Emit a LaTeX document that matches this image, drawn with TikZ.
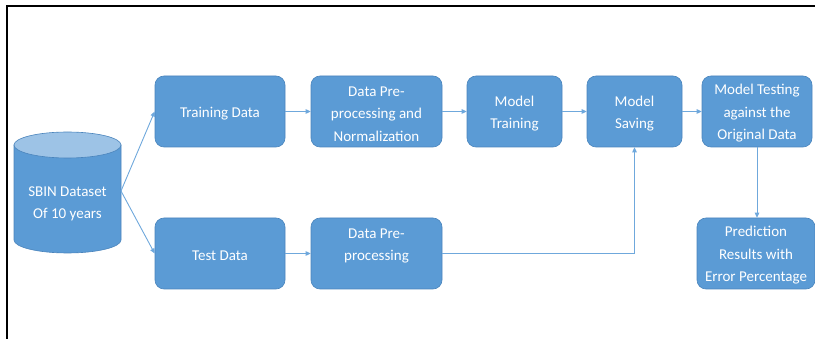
\documentclass[tikz,border=0pt]{standalone}
\usepackage{fontspec}
\setmainfont{Carlito}
\usetikzlibrary{arrows.meta}
\definecolor{boxfill}{HTML}{5B9BD5}
\definecolor{boxedge}{HTML}{4A84BC}
\definecolor{topfill}{HTML}{9DC3E6}
\definecolor{linecol}{HTML}{6FA8DC}
\tikzset{
  box/.style={draw=boxedge, line width=0.6pt, fill=boxfill, rounded corners=9pt,
    text=white, align=center, inner sep=0pt, minimum height=71pt,
    font=\fontsize{15}{22.5}\selectfont},
  onel/.style={execute at begin node={\rule{0pt}{15pt}}},
  conn/.style={draw=linecol, line width=0.9pt, -{Triangle[length=5pt,width=4.5pt]}},
}
\begin{document}
\begin{tikzpicture}[x=1pt,y=-1pt]
\useasboundingbox (0,0) rectangle (815,339);
% frame
\draw[line width=2pt, black] (7,339) -- (7,6) -- (815,6);
% cylinder
\filldraw[fill=boxfill, draw=boxedge, line width=0.6pt]
  (14,145) -- (14,240) arc[start angle=180, end angle=360, x radius=53.5pt, y radius=13pt] -- (121,145) -- cycle;
\filldraw[fill=topfill, draw=boxedge, line width=0.6pt] (67.5,145) ellipse[x radius=53.5pt, y radius=13pt];
\node[text=white, align=center, inner sep=0pt, font=\fontsize{15}{22.5}\selectfont] (db) at (67.5,201.5) {\mbox{}\\[-8pt]SBIN Dataset\\Of 10 years};
\coordinate (src) at (121,191);
% boxes
\node[box, onel, minimum width=130pt] (train) at (220,111.5) {Training Data};
\node[box, minimum width=131pt] (prep) at (376.5,111.5) {\mbox{}\\[-8pt]Data Pre-\\processing and\\Normalization};
\node[box, minimum width=95pt] (mtrain) at (514.5,111.5) {\mbox{}\\[-8pt]Model\\Training};
\node[box, minimum width=95pt] (msave) at (634.5,111.5) {\mbox{}\\[-8pt]Model\\Saving};
\node[box, minimum width=110pt] (mtest) at (757,111.5) {\mbox{}\\[-8pt]Model Testing\\against the\\Original Data};
\node[box, onel, minimum width=130pt] (test) at (220,253.5) {Test Data};
\node[box, minimum width=131pt] (prep2) at (376.5,253.5) {\mbox{}\\[-8pt]Data Pre-\\processing\\\mbox{}};
\node[box, minimum width=118pt] (pred) at (756,253.5) {\mbox{}\\[-8pt]Prediction\\Results with\\Error Percentage};
% connectors
\draw[conn] (src) -- (train.west);
\draw[conn] (src) -- (test.west);
\draw[conn] (train.east) -- (prep.west);
\draw[conn] (prep.east) -- (mtrain.west);
\draw[conn] (mtrain.east) -- (msave.west);
\draw[conn] (msave.east) -- (mtest.west);
\draw[conn] (test.east) -- (prep2.west);
\draw[conn] (prep2.east) -| (msave.south);
\draw[conn] (mtest.south) -- (mtest.south |- pred.north);
\end{tikzpicture}
\end{document}
